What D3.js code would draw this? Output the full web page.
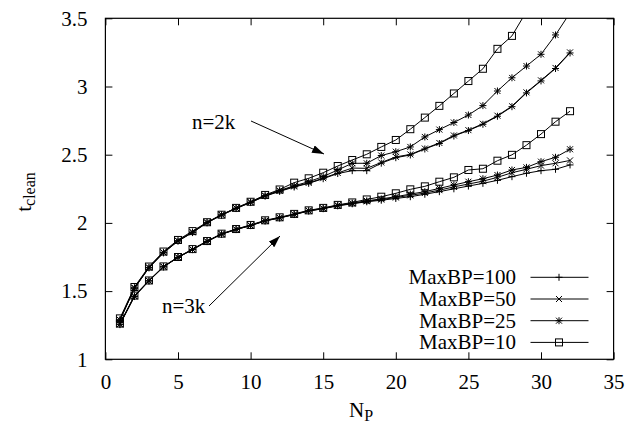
<!DOCTYPE html>
<html>
<head>
<meta charset="utf-8">
<script src="https://cdn.jsdelivr.net/npm/d3@7"></script>
<style>
  html, body { margin: 0; padding: 0; background: #fff; }
  svg { display: block; }
  text { font-family: "Liberation Serif", "Times New Roman", serif; fill: #000; }
</style>
</head>
<body>
<svg id="chart" width="629" height="429"></svg>
<script>
// ---------------- data ----------------
const NP = [1,2,3,4,5,6,7,8,9,10,11,12,13,14,15,16,17,18,19,20,21,22,23,24,25,26,27,28,29,30,31,32];

const xTicks = [0,5,10,15,20,25,30,35];
const yTicks = [1,1.5,2,2.5,3,3.5];
const yTickLabels = ["1","1.5","2","2.5","3","3.5"];

// n = 2k
const k2_MaxBP100 = [1.285,1.52,1.67,1.78,1.866,1.929,2.0,2.056,2.105,2.149,2.196,2.231,2.263,2.29,2.324,2.362,2.383,2.383,2.438,2.478,2.498,2.542,2.582,2.637,2.677,2.723,2.782,2.852,2.953,3.041,3.132,3.246];
const k2_MaxBP50  = [1.288,1.522,1.672,1.782,1.868,1.931,2.002,2.058,2.107,2.151,2.198,2.234,2.267,2.293,2.328,2.366,2.402,2.400,2.443,2.484,2.502,2.545,2.586,2.641,2.680,2.727,2.786,2.856,2.957,3.045,3.136,3.250];
const k2_MaxBP25  = [1.29,1.525,1.674,1.784,1.870,1.933,2.004,2.060,2.109,2.153,2.200,2.238,2.272,2.302,2.340,2.388,2.437,2.437,2.494,2.522,2.557,2.630,2.684,2.736,2.791,2.860,2.967,3.064,3.150,3.236,3.378,3.54];
const k2_MaxBP10  = [1.30,1.53,1.68,1.79,1.875,1.94,2.005,2.06,2.11,2.155,2.205,2.245,2.295,2.327,2.368,2.417,2.461,2.503,2.557,2.608,2.687,2.772,2.858,2.949,3.040,3.130,3.276,3.371,3.55,3.75,3.95,4.15];

// n = 3k
const k3_MaxBP100 = [1.254,1.460,1.574,1.677,1.746,1.804,1.863,1.917,1.951,1.980,2.014,2.036,2.061,2.087,2.104,2.125,2.140,2.155,2.166,2.179,2.192,2.210,2.229,2.250,2.270,2.290,2.312,2.339,2.364,2.383,2.393,2.425];
const k3_MaxBP50  = [1.256,1.462,1.575,1.678,1.747,1.805,1.864,1.918,1.952,1.981,2.015,2.037,2.062,2.088,2.105,2.127,2.142,2.158,2.171,2.186,2.202,2.219,2.240,2.264,2.285,2.306,2.334,2.368,2.393,2.420,2.437,2.458];
const k3_MaxBP25  = [1.258,1.464,1.576,1.679,1.748,1.806,1.865,1.919,1.953,1.982,2.016,2.038,2.063,2.090,2.107,2.129,2.145,2.162,2.176,2.192,2.211,2.229,2.253,2.278,2.302,2.324,2.351,2.388,2.407,2.449,2.481,2.540];
const k3_MaxBP10  = [1.262,1.467,1.578,1.681,1.750,1.808,1.867,1.921,1.955,1.985,2.019,2.041,2.066,2.092,2.110,2.132,2.150,2.172,2.192,2.217,2.246,2.268,2.302,2.334,2.388,2.397,2.456,2.499,2.570,2.651,2.742,2.819];

const legendLabels = ["MaxBP=100","MaxBP=50","MaxBP=25","MaxBP=10"];
const markerTypes  = ["plus","cross","star","square"];

const series = [
  {values: k2_MaxBP100, marker: "plus"},
  {values: k2_MaxBP50,  marker: "cross"},
  {values: k2_MaxBP25,  marker: "star"},
  {values: k2_MaxBP10,  marker: "square"},
  {values: k3_MaxBP100, marker: "plus"},
  {values: k3_MaxBP50,  marker: "cross"},
  {values: k3_MaxBP25,  marker: "star"},
  {values: k3_MaxBP10,  marker: "square"}
];

// ---------------- layout ----------------
const W = 629, H = 429;
const FS = 21;
const m = {left: 105.4, right: 15.4, top: 18.3, bottom: 69.7};
const iw = W - m.left - m.right, ih = H - m.top - m.bottom;

const svg = d3.select("#chart");
const x = d3.scaleLinear().domain([0,35]).range([0, iw]);
const y = d3.scaleLinear().domain([1,3.5]).range([ih, 0]);

svg.append("defs").append("clipPath").attr("id","clip")
  .append("rect").attr("x",0).attr("y",0).attr("width",iw).attr("height",ih);

const g = svg.append("g").attr("transform",`translate(${m.left},${m.top})`);

const TL = 7;
const xAxisB = d3.axisBottom(x).tickValues(xTicks).tickSizeInner(-TL).tickSizeOuter(0).tickPadding(15).tickFormat(d3.format("d"));
const xAxisT = d3.axisTop(x).tickValues(xTicks).tickSizeInner(-TL).tickSizeOuter(0).tickFormat("");
const yAxisL = d3.axisLeft(y).tickValues(yTicks).tickSizeInner(-TL).tickSizeOuter(0).tickPadding(18).tickFormat((d,i)=>yTickLabels[i]);
const yAxisR = d3.axisRight(y).tickValues(yTicks).tickSizeInner(-TL).tickSizeOuter(0).tickFormat("");

function styleAxis(sel){
  sel.select(".domain").remove();
  sel.selectAll("line").attr("stroke","#000").attr("stroke-width",1);
  sel.selectAll("text").attr("font-size",FS).attr("font-family","Liberation Serif").attr("fill","#000");
}
g.append("g").attr("transform",`translate(0,${ih})`).call(xAxisB).call(styleAxis);
g.append("g").call(xAxisT).call(styleAxis);
g.append("g").call(yAxisL).call(styleAxis);
g.append("g").attr("transform",`translate(${iw},0)`).call(yAxisR).call(styleAxis);

g.append("rect").attr("x",0).attr("y",0).attr("width",iw).attr("height",ih)
  .attr("fill","none").attr("stroke","#000").attr("stroke-width",1.2);

function drawMarker(sel, type, cx, cy){
  const s = 3.5;
  const p = sel.append("g").attr("transform",`translate(${cx},${cy})`)
    .attr("stroke","#000").attr("stroke-width",1).attr("fill","none");
  if(type==="plus" || type==="star"){
    p.append("line").attr("x1",-s).attr("x2",s).attr("y1",0).attr("y2",0);
    p.append("line").attr("x1",0).attr("x2",0).attr("y1",-s).attr("y2",s);
  }
  if(type==="cross" || type==="star"){
    const t = 3;
    p.append("line").attr("x1",-t).attr("x2",t).attr("y1",-t).attr("y2",t);
    p.append("line").attr("x1",-t).attr("x2",t).attr("y1",t).attr("y2",-t);
  }
  if(type==="square"){
    p.append("rect").attr("x",-3.5).attr("y",-3.5).attr("width",7).attr("height",7);
  }
}

const line = d3.line().x((d,i)=>x(NP[i])).y(d=>y(d));
const plot = g.append("g").attr("clip-path","url(#clip)");
series.forEach(s=>{
  plot.append("path").datum(s.values).attr("d",line)
    .attr("fill","none").attr("stroke","#000").attr("stroke-width",1);
  s.values.forEach((v,i)=>drawMarker(plot, s.marker, x(NP[i]), y(v)));
});

// legend
const legX = 516 - m.left, legY0 = 277.3 - m.top, legDy = 21.7;
legendLabels.forEach((lab,i)=>{
  const yy = legY0 + i*legDy;
  g.append("text").attr("x",legX).attr("y",yy).attr("dy","0.33em")
    .attr("text-anchor","end").attr("font-size",FS).text(lab);
  g.append("line").attr("x1",530.5-m.left).attr("x2",588.5-m.left).attr("y1",yy).attr("y2",yy)
    .attr("stroke","#000").attr("stroke-width",1);
  drawMarker(g, markerTypes[i], 559-m.left, yy);
});

// annotations with arrows
const defs = svg.select("defs");
defs.append("marker").attr("id","arrow").attr("viewBox","0 0 12 8").attr("refX",12).attr("refY",4)
  .attr("markerWidth",12).attr("markerHeight",8).attr("markerUnits","userSpaceOnUse").attr("orient","auto")
  .append("path").attr("d","M0,0 L12,4 L0,8 Z").attr("fill","#000");

svg.append("text").attr("x",192).attr("y",129).attr("font-size",FS).text("n=2k");
svg.append("line").attr("x1",251).attr("y1",121).attr("x2",324).attr("y2",154)
  .attr("stroke","#000").attr("stroke-width",1).attr("marker-end","url(#arrow)");

svg.append("text").attr("x",162).attr("y",312.5).attr("font-size",FS).text("n=3k");
svg.append("line").attr("x1",209).attr("y1",306).attr("x2",280).attr("y2",236)
  .attr("stroke","#000").attr("stroke-width",1).attr("marker-end","url(#arrow)");

// axis titles
const xt = svg.append("text").attr("x",361).attr("y",417).attr("text-anchor","middle").attr("font-size",FS);
xt.append("tspan").text("N");
xt.append("tspan").attr("font-size",16).attr("dy",4).text("P");

const yt = svg.append("text").attr("transform","translate(31,192) rotate(-90)").attr("text-anchor","middle").attr("font-size",FS);
yt.append("tspan").text("t");
yt.append("tspan").attr("font-size",16).attr("dy",4).text("clean");
</script>
</body>
</html>
